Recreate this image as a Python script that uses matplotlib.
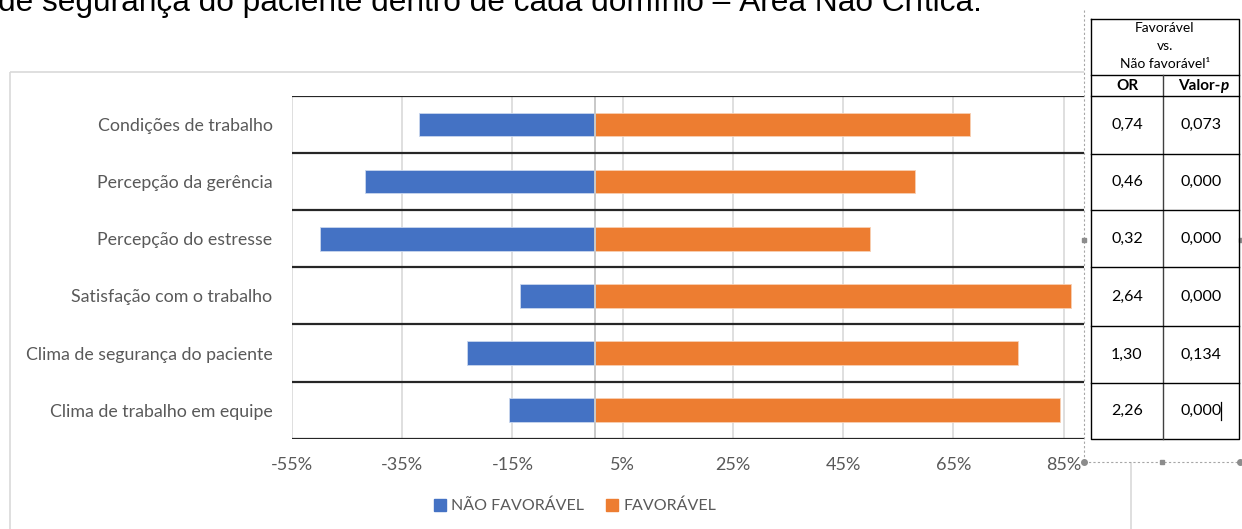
import matplotlib
matplotlib.use("Agg")
import matplotlib.pyplot as plt
from matplotlib.patches import Patch, Rectangle

# data
categories = ['Condições de trabalho', 'Percepção da gerência', 'Percepção do estresse',
              'Satisfação com o trabalho', 'Clima de segurança do paciente',
              'Clima de trabalho em equipe']
nao_favoravel = [32.0, 41.7, 50.0, 13.6, 23.3, 15.6]
favoravel = [68.1, 58.1, 49.9, 86.3, 76.8, 84.4]
tick_values = [-55, -35, -15, 5, 25, 45, 65, 85]
or_values = ['0,74', '0,46', '0,32', '2,64', '1,30', '2,26']
p_values = ['0,073', '0,000', '0,000', '0,000', '0,134', '0,000']

W, H = 1242, 529
BLUE = '#4472C4'
ORANGE = '#ED7D31'
GREY_TXT = '#595959'
FONT = 'Lato'

fig = plt.figure(figsize=(W / 100, H / 100), dpi=100)


def px_axes(x0, y0, x1, y1, **kw):
    # axes placed in pixel coords (top-left origin)
    return fig.add_axes([x0 / W, 1 - y1 / H, (x1 - x0) / W, (y1 - y0) / H], **kw)


# background overlay: chart frame + cut-off caption line
bg = fig.add_axes([0, 0, 1, 1], zorder=0)
bg.set_xlim(0, W)
bg.set_ylim(H, 0)
bg.axis('off')
bg.add_patch(Rectangle((10, 72), 1121, 520, fill=False, ec='#d9d9d9', lw=1.2))
bg.text(-2, 11, 'de segurança do paciente dentro de cada domínio – Área Não Crítica.',
        fontsize=22.8, family='Liberation Sans', va='baseline', ha='left', color='black')

# main chart
ax = px_axes(292, 96, 1085, 438.7, zorder=1)
ax.set_facecolor('none')
y = list(range(len(categories)))
ax.barh(y, [-v for v in nao_favoravel], height=0.41, color=BLUE, edgecolor='#c9d6ee', lw=0.6,
        label='NÃO FAVORÁVEL', zorder=3)
ax.barh(y, favoravel, height=0.41, color=ORANGE, edgecolor='#f8cfb3', lw=0.6,
        label='FAVORÁVEL', zorder=3)
ax.set_xlim(-55, 88.9)
ax.set_ylim(len(categories) - 0.5, -0.5)

for t in tick_values:
    ax.axvline(t, color='#d9d9d9', lw=1.2, zorder=1)
ax.axvline(0, color='#c8c8c8', lw=1.4, zorder=4)
for b in range(len(categories) + 1):
    ax.axhline(b - 0.5, color='#262626', lw=1.6, zorder=5)

ax.set_xticks(tick_values)
ax.set_xticklabels([f'{t}%' for t in tick_values])
ax.set_yticks(y)
ax.set_yticklabels(categories)
ax.tick_params(axis='x', length=0, pad=13.5, labelsize=13, labelcolor=GREY_TXT)
ax.tick_params(axis='y', length=0, pad=14, labelsize=12.8, labelcolor=GREY_TXT)
for lab in ax.get_xticklabels() + ax.get_yticklabels():
    lab.set_family(FONT)
for s in ax.spines.values():
    s.set_visible(False)

handles = [Patch(color=BLUE, label='NÃO FAVORÁVEL'), Patch(color=ORANGE, label='FAVORÁVEL')]
fig.legend(handles=handles, loc='center', bbox_to_anchor=(575 / W, 1 - 506 / H), ncol=2,
           frameon=False, handlelength=0.75, handleheight=0.75, handletextpad=0.3,
           columnspacing=1.4, prop={'family': FONT, 'size': 11.5}, labelcolor=GREY_TXT)

# table text box on the right
tb = fig.add_axes([0, 0, 1, 1], zorder=2)
tb.set_xlim(0, W)
tb.set_ylim(H, 0)
tb.axis('off')
tb.add_patch(Rectangle((1084, 0), 160, 462, fc='white', ec='none'))
tb.plot([1084, 1084], [10, 462], ls=(0, (2, 2)), color='#a6a6a6', lw=0.8)
tb.plot([1084, 1242], [462, 462], ls=(0, (2, 2)), color='#a6a6a6', lw=0.8)
tb.plot([1084, 1240], [462, 462], 'o', ms=4, color='#8c8c8c')
tb.plot([1084, 1162, 1241], [240, 462, 240], 's', ms=3.5, color='#8c8c8c')

x_l, x_m, x_r = 1091, 1163, 1239
rows = [96, 154, 210, 267, 326, 383, 439]
top, head = 19, 75
tb.plot([x_l, x_r, x_r, x_l, x_l], [top, top, rows[-1], rows[-1], top], color='black', lw=1.0)
tb.plot([x_l, x_r], [head, head], color='black', lw=1.0)
tb.plot([x_m, x_m], [head, rows[-1]], color='#404040', lw=1.0)
for r in rows[:-1]:
    tb.plot([x_l, x_r], [r, r], color='black', lw=1.0)

cx = (x_l + x_r) / 2
tb.text(cx, 28, 'Favorável', ha='center', va='center', family=FONT, fontsize=10)
tb.text(cx, 46, 'vs.', ha='center', va='center', family=FONT, fontsize=10)
tb.text(cx, 64, 'Não favorável¹', ha='center', va='center', family=FONT, fontsize=10)
c1, c2 = (x_l + x_m) / 2, (x_m + x_r) / 2
tb.text(c1, 86, 'OR', ha='center', va='center', family=FONT, fontsize=11, weight='bold')
tb.text(c2 + 19, 86, 'Valor-', ha='right', va='center', family=FONT, fontsize=11, weight='bold')
tb.text(c2 + 19, 86, 'p', ha='left', va='center', family=FONT, fontsize=11, weight='bold',
        style='italic')
for i in range(len(or_values)):
    yc = (rows[i] + rows[i + 1]) / 2
    tb.text(c1, yc, or_values[i], ha='center', va='center', family=FONT, fontsize=11.5)
    tb.text(c2, yc, p_values[i], ha='center', va='center', family=FONT, fontsize=11.5)
yc = (rows[-2] + rows[-1]) / 2
tb.plot([1221, 1221], [yc - 9, yc + 9], color='black', lw=0.9)

fig.savefig('out.png', dpi=100)
